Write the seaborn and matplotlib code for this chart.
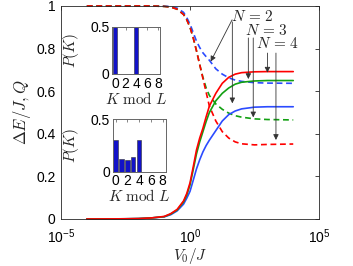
import numpy as np
import matplotlib
matplotlib.use('Agg')
import matplotlib.pyplot as plt
import seaborn as sns

# log10(V0/J) sample points shared by all curves
log_v = [-4, -3, -2.5, -2, -1.5, -1, -0.75, -0.5, -0.25, -0.125, 0, 0.125, 0.25, 0.375,
         0.5, 0.625, 0.75, 1, 1.25, 1.5, 1.75, 2, 2.5, 3, 4]

# N = 2 (blue), N = 3 (green), N = 4 (red); solid = Delta E / J, dashed = Q
dE_n2 = [0, 0.0005, 0.001, 0.002, 0.005, 0.010, 0.020, 0.038, 0.070, 0.098, 0.130, 0.182, 0.235, 0.278,
         0.315, 0.345, 0.370, 0.415, 0.460, 0.490, 0.507, 0.517, 0.525, 0.527, 0.527]
dE_n3 = [0, 0.0005, 0.001, 0.002, 0.005, 0.011, 0.023, 0.042, 0.080, 0.113, 0.160, 0.232, 0.305, 0.362,
         0.410, 0.458, 0.500, 0.555, 0.590, 0.615, 0.633, 0.642, 0.648, 0.650, 0.650]
dE_n4 = [0, 0.0005, 0.001, 0.002, 0.005, 0.012, 0.025, 0.045, 0.085, 0.120, 0.170, 0.245, 0.324, 0.380,
         0.426, 0.480, 0.530, 0.590, 0.637, 0.665, 0.680, 0.687, 0.691, 0.692, 0.692]
q_n2 = [1, 1, 1, 1, 1, 0.999, 0.997, 0.990, 0.970, 0.945, 0.915, 0.875, 0.835, 0.805,
        0.780, 0.762, 0.745, 0.705, 0.680, 0.663, 0.652, 0.646, 0.640, 0.638, 0.637]
q_n3 = [1, 1, 1, 1, 1, 0.998, 0.995, 0.985, 0.960, 0.935, 0.900, 0.850, 0.790, 0.725,
        0.665, 0.615, 0.580, 0.540, 0.515, 0.497, 0.485, 0.478, 0.470, 0.467, 0.465]
q_n4 = [1, 1, 1, 1, 1, 0.998, 0.995, 0.985, 0.960, 0.935, 0.900, 0.850, 0.790, 0.725,
        0.660, 0.595, 0.530, 0.460, 0.410, 0.380, 0.362, 0.353, 0.348, 0.350, 0.352]

# inset histograms P(K) vs K mod L
k_vals = [0, 1, 2, 3, 4, 5, 6, 7, 8]
p_top = [0.5, 0, 0, 0, 0.5, 0, 0, 0, 0]
p_bottom = [0.30, 0.125, 0.11, 0.135, 0.30, 0, 0, 0, 0]

BLUE = '#2b4bff'
GREEN = '#12a012'
RED = '#ff0000'
BAR = '#1212c8'
AX_COLOR = '#262626'

sns.set_style('white')
plt.rcParams['font.family'] = ['Liberation Sans', 'DejaVu Sans']
plt.rcParams['mathtext.fontset'] = 'cm'
plt.rcParams['font.size'] = 10

fig = plt.figure(figsize=(3.53, 2.66), dpi=100)
ax = fig.add_axes([0.1728, 0.1767, 0.731, 0.8008])

v = 10.0 ** np.array(log_v)
dash = (0, (3.5, 2.2))
for y, c in [(q_n2, BLUE), (q_n3, GREEN), (q_n4, RED)]:
    sns.lineplot(x=v, y=y, ax=ax, color=c, lw=1.2, linestyle=dash, clip_on=False)
for y, c in [(dE_n2, BLUE), (dE_n3, GREEN), (dE_n4, RED)]:
    sns.lineplot(x=v, y=y, ax=ax, color=c, lw=1.2, clip_on=False)

ax.set_xscale('log')
ax.set_xlim(1e-5, 1e5)
ax.set_ylim(0, 1)
ax.set_xticks([1e-5, 1, 1e5])
ax.xaxis.set_minor_locator(matplotlib.ticker.NullLocator())
ax.set_yticks([0, 0.2, 0.4, 0.6, 0.8, 1])
ax.set_yticklabels(['0', '0.2', '0.4', '0.6', '0.8', '1'])
ax.tick_params(direction='in', length=3, width=0.6, top=True, right=True,
               colors=AX_COLOR, labelcolor='black', pad=4)
ax.tick_params(axis='x', pad=6)
for s in ax.spines.values():
    s.set_color(AX_COLOR)
    s.set_linewidth(0.6)
ax.set_xlabel(r'$V_0/J$', fontsize=11, labelpad=0)
ax.set_ylabel(r'$\Delta E/J, Q$', fontsize=12, labelpad=2)

# arrows and N labels
arrow_kw = dict(arrowstyle='-|>', color='#333333', lw=0.6, mutation_scale=8,
                shrinkA=0, shrinkB=0)
ax.text(10 ** 2.40, 0.950, r'$N\,=\,2$', fontsize=11, ha='center', va='center')
ax.text(10 ** 2.95, 0.887, r'$N\,=\,3$', fontsize=11, ha='center', va='center')
ax.text(10 ** 3.41, 0.825, r'$N\,=\,4$', fontsize=11, ha='center', va='center')
arrows = [
    ((10 ** 1.63, 0.935), (10 ** 0.80, 0.739)),
    ((10 ** 1.64, 0.925), (10 ** 1.64, 0.543)),
    ((10 ** 2.26, 0.850), (10 ** 2.26, 0.657)),
    ((10 ** 2.45, 0.850), (10 ** 2.45, 0.477)),
    ((10 ** 3.00, 0.779), (10 ** 3.00, 0.687)),
    ((10 ** 3.33, 0.779), (10 ** 3.33, 0.371)),
]
for tail, tip in arrows:
    ax.annotate('', xy=tip, xytext=tail, arrowprops=arrow_kw)


def draw_inset(rect, p):
    ins = fig.add_axes(rect)
    sns.barplot(x=k_vals, y=p, ax=ins, color=BAR, width=0.75,
                edgecolor='#303030', linewidth=0.4, saturation=1)
    ins.set_xlim(-0.5, 8.5)
    ins.set_ylim(0, 0.5)
    ins.set_xticks([0, 2, 4, 6, 8])
    ins.set_xticklabels(['0', '2', '4', '6', '8'])
    ins.set_yticks([0, 0.5])
    ins.set_yticklabels(['0', '0.5'])
    ins.tick_params(direction='in', length=2, width=0.5, top=True, right=True,
                    colors='#555555', labelcolor='black', pad=2, labelsize=10)
    for s in ins.spines.values():
        s.set_color('#666666')
        s.set_linewidth(0.7)
    ins.set_xlabel(r'$K\ \mathrm{mod}\ L$', fontsize=11, labelpad=0)
    ins.set_ylabel(r'$P(K)$', fontsize=11, labelpad=7)
    return ins


draw_inset([0.318, 0.722, 0.1365, 0.178], p_top)
draw_inset([0.319, 0.3545, 0.150, 0.198], p_bottom)

fig.savefig('out.png', dpi=100)
